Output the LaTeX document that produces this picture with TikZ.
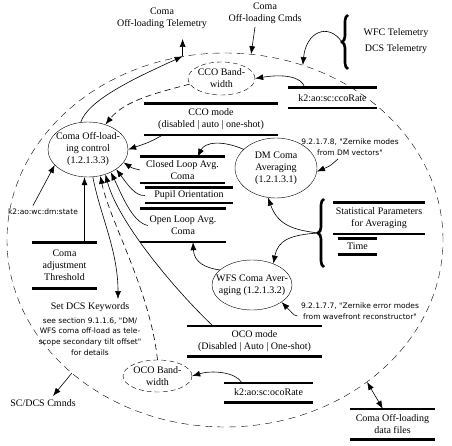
\documentclass[tikz,border=0pt]{standalone}
\usepackage{fontspec}
\setmainfont{Liberation Serif}
\newfontfamily\notefont{DejaVu Sans}
\usetikzlibrary{shapes.geometric, arrows.meta, decorations.pathreplacing}
\tikzset{
  process/.style   = {ellipse, draw=black, inner sep=-20pt, align=center,
                      font=\fontsize{10}{12}\selectfont},
  bandwidth/.style = {process, dash pattern=on 5pt off 3pt},
  store/.style     = {inner sep=0pt, align=center,
                      font=\fontsize{10}{12}\selectfont},
  storeline/.style = {line width=2.6pt},
  plain/.style     = {align=center, font=\fontsize{10}{12}\selectfont},
  note/.style      = {align=center, font=\notefont\fontsize{7.5}{11}\selectfont},
  flow/.style      = {-{Latex[length=8pt, width=6pt]}, line width=0.6pt},
  ctrlflow/.style  = {flow, dash pattern=on 6pt off 4pt},
  twoway/.style    = {{Latex[length=8pt, width=6pt]}-{Latex[length=8pt, width=6pt]},
                      line width=0.6pt},
  bigbrace/.style  = {decorate, decoration={brace, amplitude=6pt},
                      line width=2.6pt},
}

\begin{document}
\begin{tikzpicture}[x=1pt, y=-1pt]
    \useasboundingbox (0,0) rectangle (452,446);

    % ── System boundary ───────────────────────────────────────────
    \node[draw, ellipse, inner sep=0pt, dash pattern=on 7pt off 5pt,
          minimum width=436pt, minimum height=374pt] (boundary) at (225,240) {};
    \coordinate (telOut)  at (boundary.103);
    \coordinate (cmdIn)   at (boundary.82);
    \coordinate (wfcIn)   at (boundary.66);
    \coordinate (scOut)   at (boundary.221);
    \coordinate (dataOut) at (boundary.315);

    % ── Processes ─────────────────────────────────────────────────
    \node[process, minimum width=80pt, minimum height=55pt] (ctrl) at (88,149.5)
      {Coma Off-load-\\ing control\\(1.2.1.3.3)};
    \node[process, minimum width=82pt, minimum height=60pt] (dmavg) at (276,168)
      {DM Coma\\Averaging\\(1.2.1.3.1)};
    \node[process, minimum width=80pt, minimum height=50pt] (wfsavg) at (252,285)
      {WFS Coma Aver-\\aging (1.2.1.3.2)};
    \node[bandwidth, minimum width=67pt, minimum height=33pt] (ccobw) at (221.5,78.5)
      {CCO Band-\\width};
    \node[bandwidth, minimum width=69pt, minimum height=32pt] (ocobw) at (157.5,376)
      {OCO Band-\\width};

    % ── Data stores ───────────────────────────────────────────────
    \node[store, minimum width=89pt, minimum height=20pt] (ccorate) at (332.5,98)
      {k2:ao:sc:ccoRate};
    \node[store, minimum width=133pt, minimum height=31pt] (ccomode) at (211,119.5)
      {CCO mode\\(disabled | auto | one-shot)};
    \node[store, minimum width=85pt, minimum height=26pt] (closedloop) at (182.5,170)
      {Closed Loop Avg.\\Coma};
    \node[store, minimum width=88pt, minimum height=15pt] (pupil) at (189,195.5)
      {Pupil Orientation};
    \node[store, minimum width=86pt, minimum height=33pt] (openloop) at (183,225.5)
      {Open Loop Avg.\\Coma};
    \node[store, minimum width=65pt, minimum height=45pt] (threshold) at (64.5,265.5)
      {Coma\\adjustment\\Threshold};
    \node[store, minimum width=92pt, minimum height=31pt] (statparams) at (379,218.5)
      {Statistical Parameters\\for Averaging};
    \node[store, minimum width=39pt, minimum height=15pt] (avgtime) at (357.5,246.5)
      {Time};
    \node[store, minimum width=135pt, minimum height=30pt] (ocomode) at (254.5,341)
      {OCO mode\\(Disabled | Auto | One-shot)};
    \node[store, minimum width=89pt, minimum height=19pt] (ocorate) at (268.5,392.5)
      {k2:ao:sc:ocoRate};
    \node[store, minimum width=85pt, minimum height=30pt] (datafiles) at (392.5,424)
      {Coma Off-loading\\data files};

    \draw[storeline] (ccorate.north west) -- (ccorate.north east)
                     (ccorate.south west) -- (ccorate.south east);
    \draw[storeline] (ccomode.north west) -- (ccomode.north east)
                     (ccomode.south west) -- (ccomode.south east);
    \draw[storeline] (closedloop.north west) -- (closedloop.north east)
                     (closedloop.south west) -- (closedloop.south east);
    \draw[storeline] (pupil.north west) -- (pupil.north east)
                     (pupil.south west) -- (pupil.south east);
    \draw[storeline] (openloop.north west) -- (openloop.north east)
                     (openloop.south west) -- (openloop.south east);
    \draw[storeline] (threshold.north west) -- (threshold.north east)
                     (threshold.south west) -- (threshold.south east);
    \draw[storeline] (statparams.north west) -- (statparams.north east)
                     (statparams.south west) -- (statparams.south east);
    \draw[storeline] (avgtime.north west) -- (avgtime.north east)
                     (avgtime.south west) -- (avgtime.south east);
    \draw[storeline] (ocomode.north west) -- (ocomode.north east)
                     (ocomode.south west) -- (ocomode.south east);
    \draw[storeline] (ocorate.north west) -- (ocorate.north east)
                     (ocorate.south west) -- (ocorate.south east);
    \draw[storeline] (datafiles.north west) -- (datafiles.north east)
                     (datafiles.south west) -- (datafiles.south east);

    % ── Terminators and notes ─────────────────────────────────────
    \node[plain] (telemetry) at (162,18) {Coma\\Off-loading Telemetry};
    \node[plain] (cmds) at (265,13) {Coma\\Off-loading Cmds};
    \node[plain] (wfcdcs) at (396,41) {WFC Telemetry\\[4pt]DCS Telemetry};
    \node[plain] (sccmds) at (43,403) {SC/DCS Cmnds};
    \node[note] (dmstate) at (43,212) {k2:ao:wc:dm:state};
    \node[note] (zm718) at (350,147) {9.2.1.7.8, "Zernike modes\\from DM vectors"};
    \node[note] (zm717) at (360,311)
      {9.2.1.7.7, "Zernike error modes\\from wavefront reconstructor"};
    \node[note, font=\notefont\fontsize{7.5}{10.7}\selectfont] (setdcs) at (90,329)
      {{\rmfamily\fontsize{10}{12}\selectfont Set DCS Keywords}\\[3pt]
       see section 9.1.1.6, "DM/\\WFS coma off-load as tele-\\
       scope secondary tilt offset"\\for details};

    \draw[bigbrace] (348,69) -- (348,15);
    \coordinate (wfcTip) at (342,42);
    \draw[bigbrace] (324,267) -- (324,199);
    \coordinate (statTip) at (318,233);

    % ── Flows ─────────────────────────────────────────────────────
    \draw[flow] (ctrl.105) .. controls (88,100) and (135,78) .. (telOut);
    \draw[flow, shorten >=7pt] (telOut) -- (telOut |- telemetry.south);
    \draw[flow] ([xshift=-10pt]cmds.south) -- (cmdIn);
    \draw[flow] (wfcTip) .. controls (328,22) and (306,32) .. (wfcIn);

    \draw[flow] ([xshift=17pt]ccorate.north west) .. controls (302,76) and (282,74)
                .. (ccobw.east);
    \draw[ctrlflow] (ccobw.190) .. controls (160,92) and (125,100) .. (ctrl.55);
    \draw[flow] ([xshift=18pt]ccomode.south west) .. controls (150,142) .. (ctrl.0);
    \draw[flow] (dmavg.150) .. controls (222,140) and (205,142)
                .. ([xshift=15pt]closedloop.north);
    \draw[flow] (closedloop.west) .. controls (132,168) .. (ctrl.-20);
    \draw[flow] (pupil.west) .. controls (135,196) and (128,185) .. (ctrl.-35);
    \draw[flow] ([xshift=8pt]openloop.west) .. controls (132,222) and (122,195)
                .. (ctrl.-45);
    \draw[flow] ([xshift=26pt]ocomode.north west) .. controls (175,290) and (118,222)
                .. (ctrl.-55);
    \draw[ctrlflow] (ocobw.north) .. controls (150,290) and (110,222) .. (ctrl.-65);
    \draw[flow] (ctrl.-80) .. controls (100,215) and (118,250)
                .. ([xshift=28pt]setdcs.north);

    \coordinate (thrTop) at ([xshift=20pt]threshold.north);
    \draw[flow] (thrTop) -- (thrTop |- ctrl.south);
    \draw[flow] ([xshift=-10pt]dmstate.north) -- (ctrl.-155);

    \draw[flow] ([xshift=-12pt]zm718.south) .. controls (330,166) .. (dmavg.-5);
    \draw[flow] (statTip) .. controls (295,230) and (278,226) .. (dmavg.-105);
    \draw[flow] (statTip) .. controls (290,235) and (278,240) .. (wfsavg.45);
    \draw[flow] (wfsavg.155) .. controls (205,268) and (194,262)
                .. ([xshift=10pt]openloop.south);
    \draw[flow] ([yshift=-5pt]zm717.west) .. controls (295,316) .. (wfsavg.-30);

    \draw[flow] ([xshift=18pt]ocorate.north west) .. controls (236,372) and (212,370)
                .. (ocobw.east);
    \draw[flow] (scOut) -- ([xshift=10pt]sccmds.north);
    \draw[twoway] (dataOut) -- ([xshift=33pt]datafiles.north west);

\end{tikzpicture}
\end{document}
